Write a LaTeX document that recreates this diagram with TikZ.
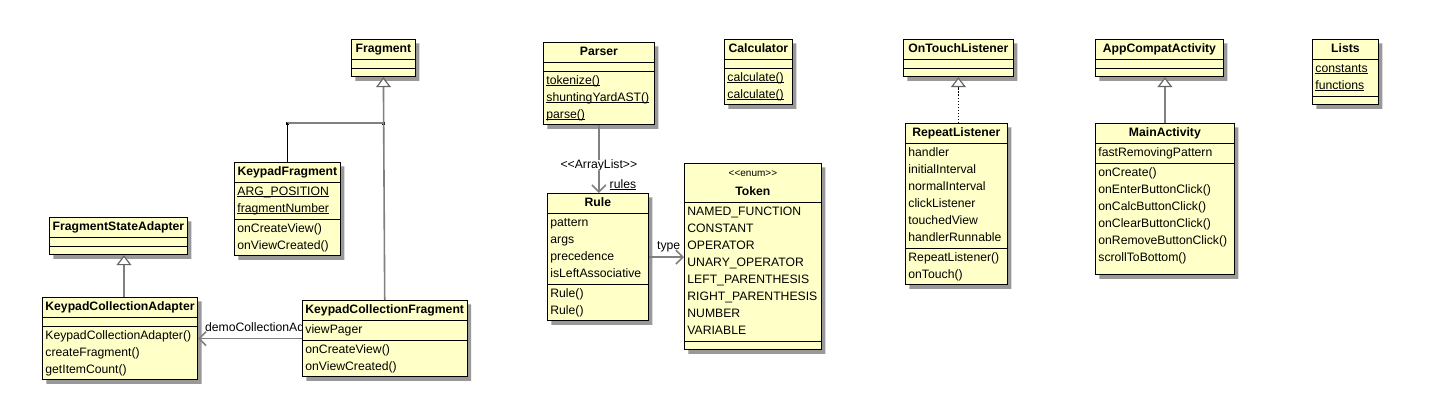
\documentclass[tikz,border=0pt]{standalone}
\usepackage{fontspec}
\setmainfont{Liberation Sans}
\usetikzlibrary{shapes.multipart,shadows,arrows.meta}
\definecolor{umlfill}{RGB}{255,255,200}
\definecolor{umlline}{RGB}{128,128,128}
\pgfdeclarelayer{background}
\pgfsetlayers{background,main}
\newcommand{\sr}{\rule[-5pt]{0pt}{17pt}}
\newcommand{\static}[1]{\setbox0\hbox{#1}\rlap{\rule[-1.6pt]{\wd0}{0.8pt}}\box0}

\begin{document}
\begin{tikzpicture}[x=1pt,y=-1pt,
    umlclass/.style={rectangle split, rectangle split parts=3, draw, line width=0.8pt,
      fill=umlfill, anchor=north west, align=left, inner xsep=3pt, inner ysep=1pt,
      rectangle split part align={center,left,left}, rectangle split empty part height=6pt,
      font=\fontsize{12.2}{17}\selectfont,
      drop shadow={shadow xshift=4pt, shadow yshift=-4pt, opacity=1, fill=black!40}},
    inherit/.style={draw=umlline, line width=1.6pt,
      -{Triangle[open,width=15pt,length=10pt,line width=1.2pt,fill=white,color=black!60]}},
    realize/.style={draw=black, line width=1.2pt, dash pattern=on 1.5pt off 1.5pt,
      -{Triangle[open,width=15pt,length=10pt,line width=1.2pt,fill=white,color=black!60]}},
    assoc/.style={draw=umlline, line width=1.6pt, -{Straight Barb[length=7pt,width=14pt]}},
    lbl/.style={font=\fontsize{12.2}{14}\selectfont, inner sep=0pt},
    junction/.style={fill=black, inner sep=0pt, minimum size=3pt}]
  \useasboundingbox (0,0) rectangle (1446,420);

  \node[umlclass, minimum width=64pt] (fragment) at (351,39) {\sr\textbf{Fragment}};
  \node[umlclass, minimum width=106pt] (keypadfragment) at (234,162) {\sr\textbf{KeypadFragment}
    \nodepart{second}\sr\static{ARG\_POSITION}\\\static{fragmentNumber}\sr
    \nodepart{third}\sr onCreateView()\\onViewCreated()\sr};
  \node[umlclass, minimum width=138pt] (fsadapter) at (49,217) {\sr\textbf{FragmentStateAdapter}};
  \node[umlclass, minimum width=155pt] (kcadapter) at (42,297) {\sr\textbf{KeypadCollectionAdapter}
    \nodepart{third}\sr KeypadCollectionAdapter()\\createFragment()\\getItemCount()\sr};
  \begin{pgfonlayer}{background}
    \fill[white] (0,0) rectangle (1446,420);
    \node[lbl, anchor=base west] (demolabel) at ([xshift=7pt,yshift=7pt]kcadapter.east) {demoCollectionAdapter};
  \end{pgfonlayer}
  \node[umlclass, minimum width=162pt] (kcfragment) at (302,300) {\sr\textbf{KeypadCollectionFragment}
    \nodepart{second}\sr viewPager
    \nodepart{third}\sr onCreateView()\\onViewCreated()\sr};

  \node[umlclass, minimum width=111pt] (parser) at (543,42) {\sr\textbf{Parser}
    \nodepart{third}\sr\static{tokenize()}\\\static{shuntingYardAST()}\\\static{parse()}\sr};
  \node[umlclass, minimum width=68pt] (calculator) at (724,39) {\sr\textbf{Calculator}
    \nodepart{third}\sr\static{calculate()}\\\static{calculate()}\sr};
  \node[umlclass, minimum width=101pt] (rule) at (547,193) {\sr\textbf{Rule}
    \nodepart{second}\sr pattern\\args\\precedence\\isLeftAssociative\sr
    \nodepart{third}\sr Rule()\\Rule()\sr};
  \node[umlclass, minimum width=137pt] (token) at (684,163)
    {\makebox[80pt]{\sr\fontsize{10}{12}\selectfont<\kern0pt<enum>\kern0pt>}\\[2pt]\makebox[80pt]{\sr\textbf{Token}}
    \nodepart{second}\sr NAMED\_FUNCTION\\CONSTANT\\OPERATOR\\UNARY\_OPERATOR\\LEFT\_PARENTHESIS\\RIGHT\_PARENTHESIS\\NUMBER\\VARIABLE\sr};

  \node[umlclass, minimum width=110pt] (ontouch) at (903,39) {\sr\textbf{OnTouchListener}};
  \node[umlclass, minimum width=102pt] (repeat) at (905,123) {\sr\textbf{RepeatListener}
    \nodepart{second}\sr handler\\initialInterval\\normalInterval\\clickListener\\touchedView\\handlerRunnable\sr
    \nodepart{third}\sr RepeatListener()\\onTouch()\sr};
  \node[umlclass, minimum width=128pt] (appcompat) at (1095,39) {\sr\textbf{AppCompatActivity}};
  \node[umlclass, minimum width=139pt] (main) at (1095,123) {\sr\textbf{MainActivity}
    \nodepart{second}\sr fastRemovingPattern
    \nodepart{third}\sr onCreate()\\onEnterButtonClick()\\onCalcButtonClick()\\onClearButtonClick()\\onRemoveButtonClick()\\scrollToBottom()\rule[-12pt]{0pt}{0pt}};
  \node[umlclass, minimum width=66pt] (lists) at (1312,39) {\sr\textbf{Lists}
    \nodepart{second}\sr\static{constants}\\\static{functions}\sr};

  \node[junction] (fragjoin) at (383,123) {};
  \node[junction] (kfjoin) at (keypadfragment.north |- fragjoin) {};
  \draw[inherit] (kcfragment.north) -- (fragment.south);
  \draw[draw=umlline, line width=1.6pt] (kfjoin.center) -- (fragjoin.center);
  \draw[line width=0.8pt] (keypadfragment.north) -- (kfjoin.center);
  \draw[inherit] ([xshift=4pt]kcadapter.north) -- ([xshift=4pt]kcadapter.north |- fsadapter.south);
  \draw[assoc] (kcfragment.west |- kcadapter.east) -- (kcadapter.east);
  \draw[assoc] (parser.south) -- (parser.south |- rule.north)
    node[lbl, pos=0.59, fill=white] {<\kern0pt<ArrayList>\kern0pt>}
    node[lbl, pos=1, anchor=base west, xshift=10pt, yshift=5pt] {\static{rules}};
  \draw[assoc] (rule.east) -- (rule.east -| token.west)
    node[lbl, pos=1, anchor=base east, xshift=-3pt, yshift=8pt] {type};
  \draw[realize] (ontouch.south |- repeat.north) -- (ontouch.south);
  \draw[inherit] (main.north) -- (main.north |- appcompat.south);
\end{tikzpicture}
\end{document}
